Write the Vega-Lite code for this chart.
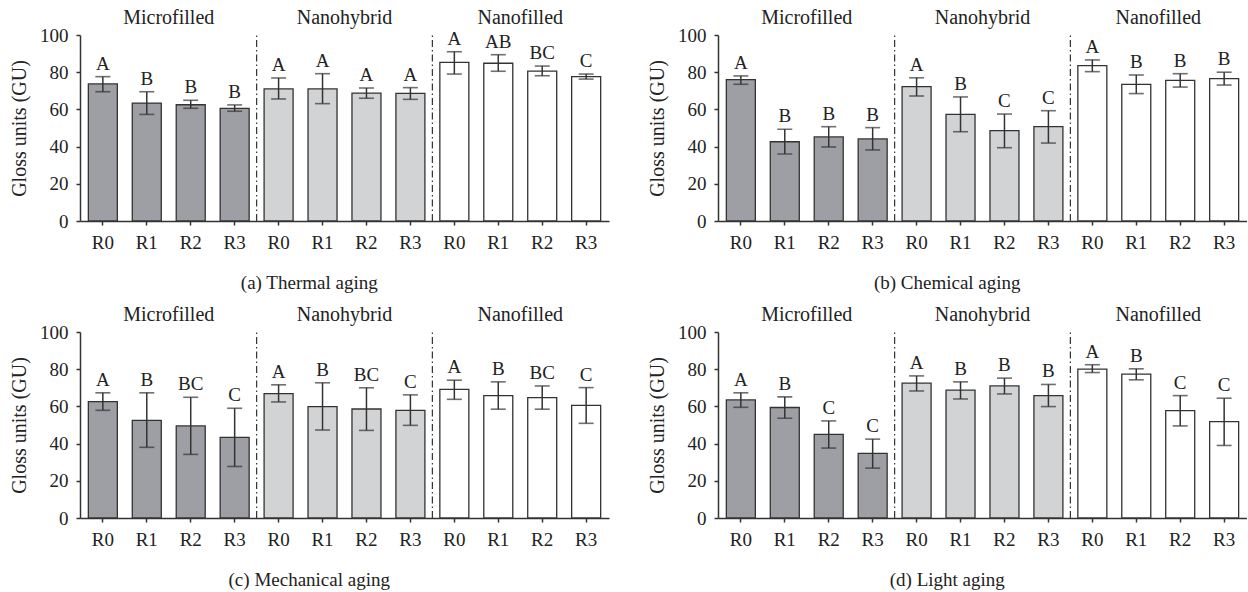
{
  "$schema": "https://vega.github.io/schema/vega-lite/v6.json",
  "background": "white",
  "padding": {"left": 9, "top": 8, "right": 0, "bottom": 0},
  "datasets": {
    "bars": [
      {"p":"a","g":"Microfilled","k":"Microfilled|R0","m":73.7,"lo":69.5,"hi":77.6,"L":"A"},
      {"p":"a","g":"Microfilled","k":"Microfilled|R1","m":63.4,"lo":57.3,"hi":69.5,"L":"B"},
      {"p":"a","g":"Microfilled","k":"Microfilled|R2","m":62.5,"lo":60.6,"hi":64.9,"L":"B"},
      {"p":"a","g":"Microfilled","k":"Microfilled|R3","m":60.6,"lo":59.0,"hi":62.4,"L":"B"},
      {"p":"a","g":"Nanohybrid","k":"Nanohybrid|R0","m":71.0,"lo":65.6,"hi":76.9,"L":"A"},
      {"p":"a","g":"Nanohybrid","k":"Nanohybrid|R1","m":71.0,"lo":63.1,"hi":79.2,"L":"A"},
      {"p":"a","g":"Nanohybrid","k":"Nanohybrid|R2","m":68.8,"lo":66.0,"hi":71.5,"L":"A"},
      {"p":"a","g":"Nanohybrid","k":"Nanohybrid|R3","m":68.6,"lo":65.4,"hi":71.7,"L":"A"},
      {"p":"a","g":"Nanofilled","k":"Nanofilled|R0","m":85.3,"lo":79.0,"hi":91.0,"L":"A"},
      {"p":"a","g":"Nanofilled","k":"Nanofilled|R1","m":84.8,"lo":80.5,"hi":89.4,"L":"AB"},
      {"p":"a","g":"Nanofilled","k":"Nanofilled|R2","m":80.6,"lo":78.1,"hi":83.3,"L":"BC"},
      {"p":"a","g":"Nanofilled","k":"Nanofilled|R3","m":77.6,"lo":76.3,"hi":79.0,"L":"C"},

      {"p":"b","g":"Microfilled","k":"Microfilled|R0","m":76.0,"lo":73.5,"hi":78.0,"L":"A"},
      {"p":"b","g":"Microfilled","k":"Microfilled|R1","m":42.6,"lo":36.0,"hi":49.3,"L":"B"},
      {"p":"b","g":"Microfilled","k":"Microfilled|R2","m":45.2,"lo":39.8,"hi":50.7,"L":"B"},
      {"p":"b","g":"Microfilled","k":"Microfilled|R3","m":44.1,"lo":38.2,"hi":50.2,"L":"B"},
      {"p":"b","g":"Nanohybrid","k":"Nanohybrid|R0","m":72.2,"lo":67.2,"hi":77.0,"L":"A"},
      {"p":"b","g":"Nanohybrid","k":"Nanohybrid|R1","m":57.3,"lo":48.0,"hi":66.7,"L":"B"},
      {"p":"b","g":"Nanohybrid","k":"Nanohybrid|R2","m":48.6,"lo":39.4,"hi":57.5,"L":"C"},
      {"p":"b","g":"Nanohybrid","k":"Nanohybrid|R3","m":50.7,"lo":41.9,"hi":59.3,"L":"C"},
      {"p":"b","g":"Nanofilled","k":"Nanofilled|R0","m":83.5,"lo":80.3,"hi":86.6,"L":"A"},
      {"p":"b","g":"Nanofilled","k":"Nanofilled|R1","m":73.5,"lo":68.5,"hi":78.5,"L":"B"},
      {"p":"b","g":"Nanofilled","k":"Nanofilled|R2","m":75.6,"lo":72.0,"hi":79.2,"L":"B"},
      {"p":"b","g":"Nanofilled","k":"Nanofilled|R3","m":76.5,"lo":73.1,"hi":80.0,"L":"B"},

      {"p":"c","g":"Microfilled","k":"Microfilled|R0","m":62.6,"lo":57.9,"hi":67.3,"L":"A"},
      {"p":"c","g":"Microfilled","k":"Microfilled|R1","m":52.5,"lo":38.0,"hi":67.3,"L":"B"},
      {"p":"c","g":"Microfilled","k":"Microfilled|R2","m":49.5,"lo":34.2,"hi":64.9,"L":"BC"},
      {"p":"c","g":"Microfilled","k":"Microfilled|R3","m":43.3,"lo":27.7,"hi":59.0,"L":"C"},
      {"p":"c","g":"Nanohybrid","k":"Nanohybrid|R0","m":66.9,"lo":62.4,"hi":71.6,"L":"A"},
      {"p":"c","g":"Nanohybrid","k":"Nanohybrid|R1","m":59.9,"lo":47.3,"hi":72.7,"L":"B"},
      {"p":"c","g":"Nanohybrid","k":"Nanohybrid|R2","m":58.6,"lo":47.1,"hi":70.0,"L":"BC"},
      {"p":"c","g":"Nanohybrid","k":"Nanohybrid|R3","m":57.9,"lo":49.8,"hi":66.2,"L":"C"},
      {"p":"c","g":"Nanofilled","k":"Nanofilled|R0","m":69.1,"lo":63.8,"hi":74.1,"L":"A"},
      {"p":"c","g":"Nanofilled","k":"Nanofilled|R1","m":65.8,"lo":58.5,"hi":73.2,"L":"B"},
      {"p":"c","g":"Nanofilled","k":"Nanofilled|R2","m":64.7,"lo":58.5,"hi":71.0,"L":"BC"},
      {"p":"c","g":"Nanofilled","k":"Nanofilled|R3","m":60.6,"lo":50.9,"hi":70.1,"L":"C"},

      {"p":"d","g":"Microfilled","k":"Microfilled|R0","m":63.5,"lo":59.5,"hi":67.3,"L":"A"},
      {"p":"d","g":"Microfilled","k":"Microfilled|R1","m":59.4,"lo":53.6,"hi":65.1,"L":"B"},
      {"p":"d","g":"Microfilled","k":"Microfilled|R2","m":45.0,"lo":37.6,"hi":52.2,"L":"C"},
      {"p":"d","g":"Microfilled","k":"Microfilled|R3","m":34.7,"lo":26.8,"hi":42.4,"L":"C"},
      {"p":"d","g":"Nanohybrid","k":"Nanohybrid|R0","m":72.5,"lo":68.3,"hi":76.4,"L":"A"},
      {"p":"d","g":"Nanohybrid","k":"Nanohybrid|R1","m":68.7,"lo":64.0,"hi":73.2,"L":"B"},
      {"p":"d","g":"Nanohybrid","k":"Nanohybrid|R2","m":71.0,"lo":66.7,"hi":75.2,"L":"B"},
      {"p":"d","g":"Nanohybrid","k":"Nanohybrid|R3","m":65.8,"lo":59.9,"hi":71.8,"L":"B"},
      {"p":"d","g":"Nanofilled","k":"Nanofilled|R0","m":80.0,"lo":78.2,"hi":82.4,"L":"A"},
      {"p":"d","g":"Nanofilled","k":"Nanofilled|R1","m":77.3,"lo":74.3,"hi":80.2,"L":"B"},
      {"p":"d","g":"Nanofilled","k":"Nanofilled|R2","m":57.7,"lo":49.5,"hi":65.8,"L":"C"},
      {"p":"d","g":"Nanofilled","k":"Nanofilled|R3","m":51.8,"lo":39.0,"hi":64.4,"L":"C"}
    ],
    "groups": [
      {"g":"Microfilled","start":"Microfilled|R0","mid":"Microfilled|R2"},
      {"g":"Nanohybrid","start":"Nanohybrid|R0","mid":"Nanohybrid|R2"},
      {"g":"Nanofilled","start":"Nanofilled|R0","mid":"Nanofilled|R2"}
    ]
  },
  "vconcat": [
    {
      "hconcat": [
        {
          "width": 529, "height": 186,
          "title": {"text": "(a)  Thermal aging"},
          "layer": [
            {"data":{"name":"bars"},"transform":[{"filter":"datum.p==='a'"}],"mark":{"type":"bar","stroke":"#333333","strokeWidth":1.3},
             "encoding":{"x":{"field":"k","type":"nominal","scale":{"domain":["Microfilled|R0","Microfilled|R1","Microfilled|R2","Microfilled|R3","Nanohybrid|R0","Nanohybrid|R1","Nanohybrid|R2","Nanohybrid|R3","Nanofilled|R0","Nanofilled|R1","Nanofilled|R2","Nanofilled|R3"],"paddingInner":0.34,"paddingOuter":0.19},"axis":{"title":null,"labelAngle":0,"labelExpr":"split(datum.value,'|')[1]","labelPadding":8}},
               "y":{"field":"m","type":"quantitative","scale":{"domain":[0,100]},"axis":{"title":"Gloss units (GU)","tickCount":5,"labelOverlap":false,"labelPadding":8,"titlePadding":10}},
               "fill":{"field":"g","type":"nominal","scale":{"domain":["Microfilled","Nanohybrid","Nanofilled"],"range":["#9d9fa5","#d2d3d5","#ffffff"]},"legend":null}}},
            {"data":{"name":"bars"},"transform":[{"filter":"datum.p==='a'"}],"mark":{"type":"rule","color":"#333333","strokeWidth":1.5},"encoding":{"x":{"field":"k","type":"nominal"},"y":{"field":"lo","type":"quantitative"},"y2":{"field":"hi"}}},
            {"data":{"name":"bars"},"transform":[{"filter":"datum.p==='a'"}],"mark":{"type":"tick","color":"#333333","size":15,"thickness":1.6},"encoding":{"x":{"field":"k","type":"nominal"},"y":{"field":"lo","type":"quantitative"}}},
            {"data":{"name":"bars"},"transform":[{"filter":"datum.p==='a'"}],"mark":{"type":"tick","color":"#333333","size":15,"thickness":1.6},"encoding":{"x":{"field":"k","type":"nominal"},"y":{"field":"hi","type":"quantitative"}}},
            {"data":{"name":"bars"},"transform":[{"filter":"datum.p==='a'"}],"mark":{"type":"text","font":"Liberation Serif, DejaVu Serif, serif","fontSize":19,"color":"#222222","baseline":"alphabetic","dy":-7},"encoding":{"x":{"field":"k","type":"nominal"},"y":{"field":"hi","type":"quantitative"},"text":{"field":"L"}}},
            {"data":{"name":"groups"},"transform":[{"filter":"datum.g!=='Microfilled'"}],"mark":{"type":"rule","color":"#333333","strokeWidth":1.2,"strokeDash":[7,3,1.5,3]},"encoding":{"x":{"field":"start","type":"nominal","bandPosition":-0.2576},"y":{"datum":0,"type":"quantitative"},"y2":{"datum":100}}},
            {"data":{"name":"groups"},"mark":{"type":"text","font":"Liberation Serif, DejaVu Serif, serif","fontSize":20,"color":"#222222","baseline":"alphabetic","dy":-11},"encoding":{"x":{"field":"mid","type":"nominal","bandPosition":-0.2576},"y":{"datum":100,"type":"quantitative"},"text":{"field":"g"}}}
          ]
        },
        {
          "width": 529, "height": 186,
          "title": {"text": "(b)  Chemical aging"},
          "layer": [
            {"data":{"name":"bars"},"transform":[{"filter":"datum.p==='b'"}],"mark":{"type":"bar","stroke":"#333333","strokeWidth":1.3},
             "encoding":{"x":{"field":"k","type":"nominal","scale":{"domain":["Microfilled|R0","Microfilled|R1","Microfilled|R2","Microfilled|R3","Nanohybrid|R0","Nanohybrid|R1","Nanohybrid|R2","Nanohybrid|R3","Nanofilled|R0","Nanofilled|R1","Nanofilled|R2","Nanofilled|R3"],"paddingInner":0.34,"paddingOuter":0.19},"axis":{"title":null,"labelAngle":0,"labelExpr":"split(datum.value,'|')[1]","labelPadding":8}},
               "y":{"field":"m","type":"quantitative","scale":{"domain":[0,100]},"axis":{"title":"Gloss units (GU)","tickCount":5,"labelOverlap":false,"labelPadding":8,"titlePadding":10}},
               "fill":{"field":"g","type":"nominal","scale":{"domain":["Microfilled","Nanohybrid","Nanofilled"],"range":["#9d9fa5","#d2d3d5","#ffffff"]},"legend":null}}},
            {"data":{"name":"bars"},"transform":[{"filter":"datum.p==='b'"}],"mark":{"type":"rule","color":"#333333","strokeWidth":1.5},"encoding":{"x":{"field":"k","type":"nominal"},"y":{"field":"lo","type":"quantitative"},"y2":{"field":"hi"}}},
            {"data":{"name":"bars"},"transform":[{"filter":"datum.p==='b'"}],"mark":{"type":"tick","color":"#333333","size":15,"thickness":1.6},"encoding":{"x":{"field":"k","type":"nominal"},"y":{"field":"lo","type":"quantitative"}}},
            {"data":{"name":"bars"},"transform":[{"filter":"datum.p==='b'"}],"mark":{"type":"tick","color":"#333333","size":15,"thickness":1.6},"encoding":{"x":{"field":"k","type":"nominal"},"y":{"field":"hi","type":"quantitative"}}},
            {"data":{"name":"bars"},"transform":[{"filter":"datum.p==='b'"}],"mark":{"type":"text","font":"Liberation Serif, DejaVu Serif, serif","fontSize":19,"color":"#222222","baseline":"alphabetic","dy":-7},"encoding":{"x":{"field":"k","type":"nominal"},"y":{"field":"hi","type":"quantitative"},"text":{"field":"L"}}},
            {"data":{"name":"groups"},"transform":[{"filter":"datum.g!=='Microfilled'"}],"mark":{"type":"rule","color":"#333333","strokeWidth":1.2,"strokeDash":[7,3,1.5,3]},"encoding":{"x":{"field":"start","type":"nominal","bandPosition":-0.2576},"y":{"datum":0,"type":"quantitative"},"y2":{"datum":100}}},
            {"data":{"name":"groups"},"mark":{"type":"text","font":"Liberation Serif, DejaVu Serif, serif","fontSize":20,"color":"#222222","baseline":"alphabetic","dy":-11},"encoding":{"x":{"field":"mid","type":"nominal","bandPosition":-0.2576},"y":{"datum":100,"type":"quantitative"},"text":{"field":"g"}}}
          ]
        }
      ],
      "spacing": 38
    },
    {
      "hconcat": [
        {
          "width": 529, "height": 186,
          "title": {"text": "(c)  Mechanical aging"},
          "layer": [
            {"data":{"name":"bars"},"transform":[{"filter":"datum.p==='c'"}],"mark":{"type":"bar","stroke":"#333333","strokeWidth":1.3},
             "encoding":{"x":{"field":"k","type":"nominal","scale":{"domain":["Microfilled|R0","Microfilled|R1","Microfilled|R2","Microfilled|R3","Nanohybrid|R0","Nanohybrid|R1","Nanohybrid|R2","Nanohybrid|R3","Nanofilled|R0","Nanofilled|R1","Nanofilled|R2","Nanofilled|R3"],"paddingInner":0.34,"paddingOuter":0.19},"axis":{"title":null,"labelAngle":0,"labelExpr":"split(datum.value,'|')[1]","labelPadding":8}},
               "y":{"field":"m","type":"quantitative","scale":{"domain":[0,100]},"axis":{"title":"Gloss units (GU)","tickCount":5,"labelOverlap":false,"labelPadding":8,"titlePadding":10}},
               "fill":{"field":"g","type":"nominal","scale":{"domain":["Microfilled","Nanohybrid","Nanofilled"],"range":["#9d9fa5","#d2d3d5","#ffffff"]},"legend":null}}},
            {"data":{"name":"bars"},"transform":[{"filter":"datum.p==='c'"}],"mark":{"type":"rule","color":"#333333","strokeWidth":1.5},"encoding":{"x":{"field":"k","type":"nominal"},"y":{"field":"lo","type":"quantitative"},"y2":{"field":"hi"}}},
            {"data":{"name":"bars"},"transform":[{"filter":"datum.p==='c'"}],"mark":{"type":"tick","color":"#333333","size":15,"thickness":1.6},"encoding":{"x":{"field":"k","type":"nominal"},"y":{"field":"lo","type":"quantitative"}}},
            {"data":{"name":"bars"},"transform":[{"filter":"datum.p==='c'"}],"mark":{"type":"tick","color":"#333333","size":15,"thickness":1.6},"encoding":{"x":{"field":"k","type":"nominal"},"y":{"field":"hi","type":"quantitative"}}},
            {"data":{"name":"bars"},"transform":[{"filter":"datum.p==='c'"}],"mark":{"type":"text","font":"Liberation Serif, DejaVu Serif, serif","fontSize":19,"color":"#222222","baseline":"alphabetic","dy":-7},"encoding":{"x":{"field":"k","type":"nominal"},"y":{"field":"hi","type":"quantitative"},"text":{"field":"L"}}},
            {"data":{"name":"groups"},"transform":[{"filter":"datum.g!=='Microfilled'"}],"mark":{"type":"rule","color":"#333333","strokeWidth":1.2,"strokeDash":[7,3,1.5,3]},"encoding":{"x":{"field":"start","type":"nominal","bandPosition":-0.2576},"y":{"datum":0,"type":"quantitative"},"y2":{"datum":100}}},
            {"data":{"name":"groups"},"mark":{"type":"text","font":"Liberation Serif, DejaVu Serif, serif","fontSize":20,"color":"#222222","baseline":"alphabetic","dy":-11},"encoding":{"x":{"field":"mid","type":"nominal","bandPosition":-0.2576},"y":{"datum":100,"type":"quantitative"},"text":{"field":"g"}}}
          ]
        },
        {
          "width": 529, "height": 186,
          "title": {"text": "(d)  Light aging"},
          "layer": [
            {"data":{"name":"bars"},"transform":[{"filter":"datum.p==='d'"}],"mark":{"type":"bar","stroke":"#333333","strokeWidth":1.3},
             "encoding":{"x":{"field":"k","type":"nominal","scale":{"domain":["Microfilled|R0","Microfilled|R1","Microfilled|R2","Microfilled|R3","Nanohybrid|R0","Nanohybrid|R1","Nanohybrid|R2","Nanohybrid|R3","Nanofilled|R0","Nanofilled|R1","Nanofilled|R2","Nanofilled|R3"],"paddingInner":0.34,"paddingOuter":0.19},"axis":{"title":null,"labelAngle":0,"labelExpr":"split(datum.value,'|')[1]","labelPadding":8}},
               "y":{"field":"m","type":"quantitative","scale":{"domain":[0,100]},"axis":{"title":"Gloss units (GU)","tickCount":5,"labelOverlap":false,"labelPadding":8,"titlePadding":10}},
               "fill":{"field":"g","type":"nominal","scale":{"domain":["Microfilled","Nanohybrid","Nanofilled"],"range":["#9d9fa5","#d2d3d5","#ffffff"]},"legend":null}}},
            {"data":{"name":"bars"},"transform":[{"filter":"datum.p==='d'"}],"mark":{"type":"rule","color":"#333333","strokeWidth":1.5},"encoding":{"x":{"field":"k","type":"nominal"},"y":{"field":"lo","type":"quantitative"},"y2":{"field":"hi"}}},
            {"data":{"name":"bars"},"transform":[{"filter":"datum.p==='d'"}],"mark":{"type":"tick","color":"#333333","size":15,"thickness":1.6},"encoding":{"x":{"field":"k","type":"nominal"},"y":{"field":"lo","type":"quantitative"}}},
            {"data":{"name":"bars"},"transform":[{"filter":"datum.p==='d'"}],"mark":{"type":"tick","color":"#333333","size":15,"thickness":1.6},"encoding":{"x":{"field":"k","type":"nominal"},"y":{"field":"hi","type":"quantitative"}}},
            {"data":{"name":"bars"},"transform":[{"filter":"datum.p==='d'"}],"mark":{"type":"text","font":"Liberation Serif, DejaVu Serif, serif","fontSize":19,"color":"#222222","baseline":"alphabetic","dy":-7},"encoding":{"x":{"field":"k","type":"nominal"},"y":{"field":"hi","type":"quantitative"},"text":{"field":"L"}}},
            {"data":{"name":"groups"},"transform":[{"filter":"datum.g!=='Microfilled'"}],"mark":{"type":"rule","color":"#333333","strokeWidth":1.2,"strokeDash":[7,3,1.5,3]},"encoding":{"x":{"field":"start","type":"nominal","bandPosition":-0.2576},"y":{"datum":0,"type":"quantitative"},"y2":{"datum":100}}},
            {"data":{"name":"groups"},"mark":{"type":"text","font":"Liberation Serif, DejaVu Serif, serif","fontSize":20,"color":"#222222","baseline":"alphabetic","dy":-11},"encoding":{"x":{"field":"mid","type":"nominal","bandPosition":-0.2576},"y":{"datum":100,"type":"quantitative"},"text":{"field":"g"}}}
          ]
        }
      ],
      "spacing": 38
    }
  ],
  "spacing": 12,
  "config": {
    "view": {"stroke": null},
    "title": {"orient": "bottom", "frame": "bounds", "anchor": "middle", "font": "Liberation Serif, DejaVu Serif, serif", "fontSize": 19, "fontWeight": "normal", "color": "#222222", "offset": 22},
    "axis": {"grid": false, "labelOverlap": false, "labelFont": "Liberation Serif, DejaVu Serif, serif", "labelFontSize": 19, "labelColor": "#222222", "titleFont": "Liberation Serif, DejaVu Serif, serif", "titleFontSize": 20, "titleFontWeight": "normal", "titleColor": "#222222", "domainColor": "#333333", "domainWidth": 1.5, "tickColor": "#333333", "tickWidth": 1.5, "tickSize": 4}
  }
}
